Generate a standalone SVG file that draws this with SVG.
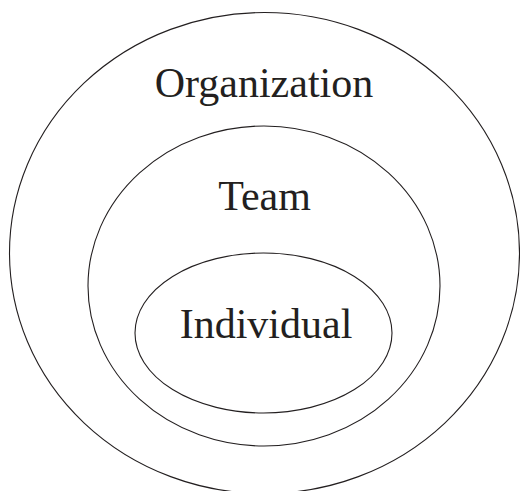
<svg xmlns="http://www.w3.org/2000/svg" width="520" height="491" viewBox="0 0 520 491">
<style>
.ring{fill:none;stroke:#231f20;stroke-width:1.1}
.lbl{font-family:"Liberation Serif","Times New Roman",serif;font-size:42px;fill:#231f20;text-anchor:middle}
</style>
<rect width="520" height="491" fill="#fff"/>
<g id="organization">
<ellipse class="ring" cx="264.5" cy="253" rx="255" ry="240.5"/>
<text class="lbl" x="264" y="97">Organization</text>
</g>
<g id="team">
<ellipse class="ring" cx="264" cy="286" rx="176" ry="160"/>
<text class="lbl" x="264.5" y="210">Team</text>
</g>
<g id="individual">
<ellipse class="ring" cx="263.5" cy="333" rx="128.5" ry="80"/>
<text class="lbl" x="266" y="337.5">Individual</text>
</g>
<g id="connectors"/>
</svg>
